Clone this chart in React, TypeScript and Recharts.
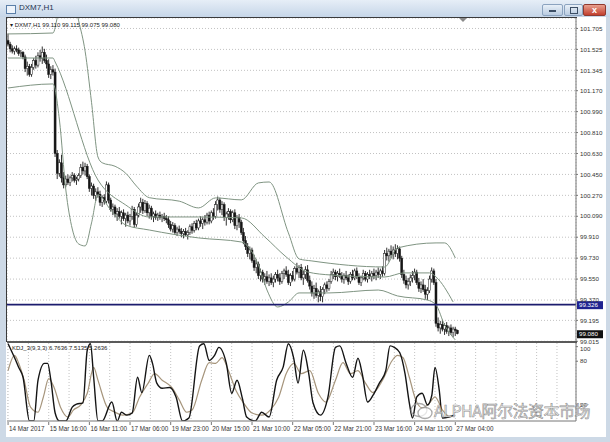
import React from 'react';
import {
  ComposedChart,
  LineChart,
  Bar,
  Line,
  XAxis,
  YAxis,
  CartesianGrid,
  ReferenceLine
} from 'recharts';

// DXM7 H1 candles: [open, high, low, close]
const candles: number[][] = [
  [101.60, 101.66, 101.55, 101.57], [101.57, 101.59, 101.50, 101.53], [101.53, 101.56, 101.49, 101.51], [101.51, 101.55, 101.48, 101.53], [101.53, 101.56, 101.50, 101.52],
  [101.52, 101.54, 101.47, 101.49], [101.49, 101.52, 101.46, 101.50], [101.50, 101.51, 101.44, 101.46], [101.46, 101.48, 101.33, 101.36], [101.36, 101.42, 101.30, 101.38],
  [101.38, 101.40, 101.29, 101.31], [101.31, 101.40, 101.29, 101.37], [101.37, 101.45, 101.35, 101.43], [101.43, 101.47, 101.36, 101.39], [101.39, 101.50, 101.37, 101.47],
  [101.47, 101.52, 101.42, 101.45], [101.45, 101.55, 101.40, 101.50], [101.50, 101.53, 101.41, 101.43], [101.43, 101.48, 101.36, 101.40], [101.40, 101.44, 101.28, 101.31],
  [101.31, 101.38, 101.27, 101.35], [101.35, 101.39, 101.30, 101.33], [101.33, 101.36, 100.60, 100.63], [100.63, 100.66, 100.41, 100.46], [100.46, 100.58, 100.43, 100.55],
  [100.55, 100.62, 100.38, 100.42], [100.42, 100.47, 100.33, 100.36], [100.36, 100.44, 100.34, 100.41], [100.41, 100.45, 100.36, 100.38], [100.38, 100.44, 100.35, 100.42],
  [100.42, 100.47, 100.39, 100.44], [100.44, 100.46, 100.38, 100.40], [100.40, 100.43, 100.36, 100.41], [100.41, 100.46, 100.39, 100.44], [100.44, 100.54, 100.42, 100.51],
  [100.51, 100.56, 100.45, 100.48], [100.48, 100.55, 100.44, 100.52], [100.52, 100.54, 100.41, 100.43], [100.43, 100.45, 100.30, 100.33], [100.33, 100.38, 100.27, 100.35],
  [100.35, 100.37, 100.24, 100.27], [100.27, 100.33, 100.22, 100.30], [100.30, 100.34, 100.25, 100.28], [100.28, 100.31, 100.18, 100.21], [100.21, 100.27, 100.17, 100.25],
  [100.25, 100.28, 100.19, 100.22], [100.22, 100.39, 100.20, 100.36], [100.36, 100.38, 100.20, 100.23], [100.23, 100.25, 100.13, 100.15], [100.15, 100.20, 100.10, 100.17],
  [100.17, 100.19, 100.08, 100.11], [100.11, 100.16, 100.05, 100.13], [100.13, 100.17, 100.07, 100.09], [100.09, 100.14, 100.02, 100.12], [100.12, 100.15, 100.05, 100.07],
  [100.07, 100.12, 100.00, 100.10], [100.10, 100.13, 100.03, 100.05], [100.05, 100.11, 100.01, 100.09], [100.09, 100.18, 100.06, 100.15], [100.15, 100.17, 99.99, 100.02],
  [100.02, 100.12, 100.00, 100.10], [100.10, 100.20, 100.08, 100.17], [100.17, 100.25, 100.12, 100.21], [100.21, 100.24, 100.11, 100.14], [100.14, 100.23, 100.12, 100.20],
  [100.20, 100.22, 100.09, 100.12], [100.12, 100.19, 100.07, 100.16], [100.16, 100.18, 100.06, 100.09], [100.09, 100.13, 100.04, 100.11], [100.11, 100.14, 100.06, 100.08],
  [100.08, 100.12, 100.05, 100.10], [100.10, 100.13, 100.06, 100.08], [100.08, 100.11, 100.04, 100.09], [100.09, 100.12, 100.05, 100.07], [100.07, 100.10, 100.03, 100.06],
  [100.06, 100.09, 99.99, 100.02], [100.02, 100.05, 99.96, 99.98], [99.98, 100.04, 99.95, 100.01], [100.01, 100.03, 99.93, 99.95], [99.95, 100.00, 99.92, 99.98],
  [99.98, 100.01, 99.94, 99.96], [99.96, 99.99, 99.91, 99.94], [99.94, 99.98, 99.90, 99.96], [99.96, 99.99, 99.92, 99.93], [99.93, 99.97, 99.89, 99.95],
  [99.95, 100.02, 99.93, 100.00], [100.00, 100.03, 99.94, 99.97], [99.97, 100.05, 99.95, 100.03], [100.03, 100.06, 99.97, 99.99], [99.99, 100.07, 99.97, 100.05],
  [100.05, 100.09, 100.00, 100.03], [100.03, 100.08, 99.98, 100.06], [100.06, 100.10, 100.01, 100.04], [100.04, 100.12, 100.02, 100.10], [100.10, 100.13, 100.02, 100.05],
  [100.05, 100.14, 100.03, 100.12], [100.12, 100.16, 100.06, 100.09], [100.09, 100.22, 100.07, 100.19], [100.19, 100.26, 100.14, 100.23], [100.23, 100.25, 100.12, 100.15],
  [100.15, 100.22, 100.10, 100.19], [100.19, 100.21, 100.05, 100.08], [100.08, 100.13, 100.01, 100.11], [100.11, 100.16, 100.06, 100.13], [100.13, 100.15, 100.03, 100.06],
  [100.06, 100.14, 100.04, 100.12], [100.12, 100.15, 99.98, 100.01], [100.01, 100.10, 99.97, 100.08], [100.08, 100.11, 99.99, 100.04], [100.04, 100.06, 99.93, 99.95],
  [99.95, 99.99, 99.85, 99.88], [99.88, 99.92, 99.80, 99.83], [99.83, 99.86, 99.74, 99.77], [99.77, 99.83, 99.72, 99.80], [99.80, 99.82, 99.69, 99.71],
  [99.71, 99.76, 99.62, 99.65], [99.65, 99.72, 99.60, 99.68], [99.68, 99.70, 99.55, 99.58], [99.58, 99.64, 99.53, 99.61], [99.61, 99.63, 99.52, 99.55],
  [99.55, 99.60, 99.50, 99.57], [99.57, 99.62, 99.51, 99.53], [99.53, 99.59, 99.49, 99.56], [99.56, 99.60, 99.50, 99.52], [99.52, 99.58, 99.48, 99.55],
  [99.55, 99.61, 99.52, 99.59], [99.59, 99.63, 99.53, 99.56], [99.56, 99.60, 99.50, 99.53], [99.53, 99.62, 99.51, 99.60], [99.60, 99.64, 99.55, 99.62],
  [99.62, 99.66, 99.57, 99.59], [99.59, 99.63, 99.50, 99.52], [99.52, 99.60, 99.49, 99.58], [99.58, 99.62, 99.53, 99.55], [99.55, 99.66, 99.53, 99.64],
  [99.64, 99.69, 99.59, 99.61], [99.61, 99.67, 99.56, 99.65], [99.65, 99.68, 99.54, 99.56], [99.56, 99.62, 99.50, 99.59], [99.59, 99.66, 99.55, 99.63],
  [99.63, 99.67, 99.52, 99.54], [99.54, 99.58, 99.46, 99.49], [99.49, 99.53, 99.40, 99.43], [99.43, 99.50, 99.38, 99.47], [99.47, 99.52, 99.39, 99.41],
  [99.41, 99.46, 99.35, 99.44], [99.44, 99.49, 99.36, 99.40], [99.40, 99.48, 99.35, 99.46], [99.46, 99.52, 99.42, 99.50], [99.50, 99.53, 99.44, 99.47],
  [99.47, 99.55, 99.45, 99.53], [99.53, 99.62, 99.51, 99.59], [99.59, 99.64, 99.55, 99.61], [99.61, 99.63, 99.54, 99.57], [99.57, 99.62, 99.53, 99.60],
  [99.60, 99.64, 99.56, 99.58], [99.58, 99.61, 99.52, 99.55], [99.55, 99.60, 99.51, 99.58], [99.58, 99.62, 99.54, 99.56], [99.56, 99.59, 99.50, 99.53],
  [99.53, 99.61, 99.51, 99.59], [99.59, 99.63, 99.54, 99.56], [99.56, 99.64, 99.54, 99.62], [99.62, 99.65, 99.55, 99.57], [99.57, 99.60, 99.50, 99.52],
  [99.52, 99.58, 99.49, 99.56], [99.56, 99.63, 99.54, 99.60], [99.60, 99.62, 99.53, 99.55], [99.55, 99.61, 99.52, 99.59], [99.59, 99.63, 99.55, 99.57],
  [99.57, 99.62, 99.53, 99.60], [99.60, 99.64, 99.55, 99.58], [99.58, 99.63, 99.54, 99.61], [99.61, 99.65, 99.56, 99.59], [99.59, 99.64, 99.55, 99.62],
  [99.62, 99.66, 99.57, 99.60], [99.60, 99.80, 99.58, 99.77], [99.77, 99.82, 99.71, 99.75], [99.75, 99.81, 99.70, 99.79], [99.79, 99.84, 99.73, 99.76],
  [99.76, 99.83, 99.72, 99.80], [99.80, 99.85, 99.74, 99.77], [99.77, 99.84, 99.72, 99.81], [99.81, 99.83, 99.70, 99.73], [99.73, 99.75, 99.56, 99.59],
  [99.59, 99.63, 99.51, 99.54], [99.54, 99.58, 99.47, 99.50], [99.50, 99.56, 99.46, 99.53], [99.53, 99.59, 99.49, 99.56], [99.56, 99.62, 99.52, 99.58],
  [99.58, 99.64, 99.54, 99.61], [99.61, 99.63, 99.50, 99.52], [99.52, 99.56, 99.44, 99.47], [99.47, 99.53, 99.43, 99.50], [99.50, 99.55, 99.44, 99.46],
  [99.46, 99.50, 99.38, 99.42], [99.42, 99.48, 99.37, 99.45], [99.45, 99.58, 99.43, 99.55], [99.55, 99.65, 99.52, 99.62], [99.62, 99.64, 99.50, 99.52],
  [99.52, 99.55, 99.14, 99.17], [99.17, 99.22, 99.10, 99.13], [99.13, 99.19, 99.08, 99.16], [99.16, 99.20, 99.10, 99.12], [99.12, 99.17, 99.07, 99.15],
  [99.15, 99.18, 99.08, 99.10], [99.10, 99.15, 99.06, 99.13], [99.13, 99.16, 99.07, 99.09], [99.09, 99.14, 99.05, 99.12], [99.12, 99.14, 99.06, 99.11],
  [99.110, 99.115, 99.075, 99.080]
];

// Bollinger bands: [bar, price]
const upperBand = [
  [0, 101.658], [21, 101.666], [23, 101.8], [26, 102.1], [30, 102.0], [33, 101.77], [36, 101.51], [39, 101.07],
  [42, 100.6], [44, 100.55], [50, 100.52], [55, 100.46], [60, 100.35], [66, 100.25], [80, 100.22], [89, 100.162],
  [97, 100.248], [109, 100.231], [117, 100.377], [122, 100.385], [131, 99.947], [136, 99.723], [142, 99.706],
  [176, 99.654], [182, 99.818], [200, 99.861], [204, 99.861], [209, 99.732]
];
const middleBand = [
  [0, 101.451], [21, 101.451], [22, 101.417], [42, 100.402], [55, 100.187], [66, 100.084], [89, 100.084],
  [109, 100.076], [120, 99.912], [130, 99.74], [140, 99.611], [151, 99.585], [176, 99.568], [185, 99.603],
  [197, 99.603], [200, 99.568], [208, 99.353]
];
const lowerBand = [
  [0, 101.193], [21, 101.228], [24, 100.918], [27, 100.316], [30, 99.981], [33, 99.852], [36, 99.835],
  [39, 100.033], [42, 100.273], [48, 100.144], [55, 100.015], [66, 99.972], [89, 99.904], [109, 99.869],
  [117, 99.671], [121, 99.456], [126, 99.31], [131, 99.353], [136, 99.431], [150, 99.431], [173, 99.456],
  [182, 99.405], [196, 99.37], [200, 99.327], [204, 99.155], [209, 99.027]
];

// KDJ(9,3,3): [bar, value]
const kdjFast = [
  [0, 104], [3, 85], [5, 71.5], [7, 58], [10, -2], [12, -2], [14, 54], [17, 77], [18.5, 77], [20, 54], [22, 9],
  [24, -2], [27, -2], [30, 17], [32, 21], [35, 23], [37, 95], [38.5, 104], [40, 58], [42, -2], [44, -2], [48.5, 24],
  [51, -2], [53, 10], [55.5, 6], [58, 9], [60.5, 58], [62.5, 37], [66, 88], [67.5, 77], [69.5, 50], [72, 43],
  [75.5, 44], [78.5, 31], [81.5, -2], [84.5, 2], [89.5, 101], [91.5, 104], [94, 81], [96.5, 88], [98.5, 99],
  [102, 77], [104.5, 36], [107, 54], [109.5, 29], [111.5, 3.5], [115.5, -2], [118.5, 10], [122, 3.5], [125.5, 54],
  [128.5, 71.5], [131, 104], [133.5, 84], [135.5, 50], [138, 95], [140.5, 63], [142.5, 23], [146, 6], [149.5, 31],
  [153, 99], [155, 101], [158, 77], [161, 58], [163.5, 84], [165.5, 63], [168, 24], [170.5, 33], [173.5, 50],
  [176.5, 67], [178.5, 101], [180.5, 99], [183, 92], [185.5, 63], [187.5, 23], [189, 2], [191, 31], [193.5, 36],
  [196, 20], [198, 33], [199.5, 71.5], [201.5, 40], [203, 2], [206, 3.5], [208.5, 6]
];
const kdjSlow = [
  [0, 67], [3, 88], [5, 77], [7.5, 54], [10.5, 17], [14, 10], [16.5, 31], [19, 56], [21.5, 44], [24.5, 17],
  [28, 3.5], [30.5, 13], [34, 20], [37, 36], [40, 71.5], [42, 54], [46.5, 16], [50, 10], [53.5, 6], [58, 9],
  [61.5, 31], [65.5, 50], [68.5, 63], [72, 54], [76.5, 44], [80, 27], [83.5, 10], [86, 13], [90.5, 54], [94, 78],
  [97, 77], [100, 85], [103, 67], [106.5, 40], [110, 23], [114, 9], [118.5, 6], [122.5, 13], [126.5, 31],
  [130, 63], [133.5, 77], [137, 63], [141, 67], [145, 36], [148.5, 24], [153, 54], [156.5, 78], [160, 63],
  [163.5, 67], [167, 50], [170.5, 37], [175, 54], [179.5, 81], [182, 88], [184.5, 85], [187.5, 58], [190.5, 27],
  [193.5, 16], [197, 23], [199.5, 31], [203, 13], [206, 3.5]
];

const priceTicks = [101.705, 101.525, 101.345, 101.17, 100.99, 100.81, 100.63, 100.45, 100.27, 100.09, 99.91, 99.73, 99.55, 99.37, 99.195, 99.015];
const timeBars = [0, 19, 38, 57, 76, 95, 114, 133, 152, 171, 190, 209];
const timeLabels = ['14 Mar 2017', '15 Mar 16:00', '16 Mar 11:00', '17 Mar 06:00', '19 Mar 23:00', '20 Mar 15:00', '21 Mar 10:00', '22 Mar 05:00', '22 Mar 21:00', '23 Mar 16:00', '24 Mar 11:00', '27 Mar 04:00'];
const gridBars = [0, 9.5, 19, 28.5, 38, 47.5, 57, 66.5, 76, 85.5, 95, 104.5, 114, 123.5, 133, 142.5, 152, 161.5, 171, 180.5, 190, 199.5, 209, 218.5, 228, 237.5, 247, 256.5];
const kdjTicks = [100, 80, 20];
const levelPrice = 99.33;
const levelText = '99.326';
const lastBar = { o: 99.11, h: 99.115, l: 99.075, c: 99.08 };

const FONT = "'Liberation Sans', Arial, sans-serif";
const BAR_DOMAIN: [number, number] = [-0.5, 265.4];

const candleData = candles.map((c, i) => ({ i, o: c[0], h: c[1], l: c[2], c: c[3], range: [c[2], c[1]] }));
const toPts = (arr: number[][]) => arr.map(([i, v]) => ({ i, v }));

const Candle = (props: any) => {
  const { x, y, width, height, payload } = props;
  if (x == null || y == null) return null;
  const { o, h, l, c } = payload;
  const cx = x + width / 2;
  const k = h > l ? height / (h - l) : 0;
  const py = (p: number) => y + (h - p) * k;
  const top = py(Math.max(o, c));
  const bot = py(Math.min(o, c));
  const up = c >= o;
  return (
    <g>
      <line x1={cx} x2={cx} y1={y} y2={y + height} stroke="#1a1a1a" strokeWidth={0.9} />
      <rect
        x={cx - 1}
        y={top}
        width={2}
        height={Math.max(bot - top, 0.7)}
        fill={up ? '#ffffff' : '#151515'}
        stroke="#1a1a1a"
        strokeWidth={0.5}
      />
    </g>
  );
};

const PriceTick = (props: any) => {
  const { x, y, payload } = props;
  return (
    <g>
      <line x1={x - 4} x2={x - 2} y1={y} y2={y} stroke="#777" />
      <text x={x} y={y} dy={2.2} fontSize={6.2} fill="#333" fontFamily={FONT}>
        {payload.value.toFixed(3)}
      </text>
    </g>
  );
};

const KdjTick = (props: any) => {
  const { x, y, payload } = props;
  const yy = Math.max(y, 7);
  return (
    <g>
      <line x1={x - 4} x2={x - 2} y1={y} y2={y} stroke="#777" />
      <text x={x} y={yy} dy={2.2} fontSize={6.2} fill="#333" fontFamily={FONT}>
        {payload.value}
      </text>
    </g>
  );
};

const TimeTick = (props: any) => {
  const { x, y, payload } = props;
  const idx = timeBars.indexOf(payload.value);
  if (idx < 0) return null;
  return (
    <g>
      <line x1={x} x2={x} y1={y - 3} y2={y} stroke="#777" />
      <text x={x + 1} y={y} dy={5.5} fontSize={6.3} fill="#333" fontFamily={FONT}>
        {timeLabels[idx]}
      </text>
    </g>
  );
};

const PriceBox = (props: any) => {
  const { viewBox, text, bg } = props;
  if (!viewBox) return null;
  const x = viewBox.x + viewBox.width + 1;
  const y = viewBox.y;
  return (
    <g>
      <rect x={x} y={y - 3.5} width={26} height={8} fill={bg} />
      <text x={x + 2} y={y} dy={2.7} fontSize={6.2} fill="#fff" fontFamily={FONT}>
        {text}
      </text>
    </g>
  );
};

const App = () => {
  return (
    <div style={{ position: 'absolute', left: 0, top: 0, width: 610, height: 442, background: '#cdd9e6', overflow: 'hidden', fontFamily: FONT }}>
      {/* window title bar */}
      <div style={{ position: 'absolute', left: 0, top: 0, width: 610, height: 17, background: 'linear-gradient(#e6eef7, #c6d6e8)' }} />
      <div style={{ position: 'absolute', left: 6, top: 5, width: 8, height: 7, border: '1px solid #5b7fa8', background: '#eef4fb' }} />
      <div style={{ position: 'absolute', left: 19, top: 3, fontSize: 8, color: '#1e3350' }}>DXM7,H1</div>
      <div style={{ position: 'absolute', left: 542, top: 4, width: 19, height: 10, borderRadius: 2, background: 'linear-gradient(#e8f0f8, #b9cbe0)', border: '1px solid #8ba3bf' }}>
        <div style={{ position: 'absolute', left: 6, top: 5, width: 7, height: 2, background: '#3d4f66' }} />
      </div>
      <div style={{ position: 'absolute', left: 564, top: 4, width: 17, height: 10, borderRadius: 2, background: 'linear-gradient(#e8f0f8, #b9cbe0)', border: '1px solid #8ba3bf' }}>
        <div style={{ position: 'absolute', left: 5, top: 2, width: 6, height: 5, border: '1px solid #3d4f66' }} />
      </div>
      <div style={{ position: 'absolute', left: 583, top: 4, width: 21, height: 10, borderRadius: 2, background: 'linear-gradient(#e9a08f, #c23f2e)', border: '1px solid #8f3a30', color: '#fff', fontSize: 9, lineHeight: '10px', textAlign: 'center', fontWeight: 700 }}>
        x
      </div>

      {/* chart canvas */}
      <div style={{ position: 'absolute', left: 6, top: 17, width: 600, height: 420, background: '#ffffff' }} />
      <div style={{ position: 'absolute', left: 6, top: 17, width: 570, height: 324, borderLeft: '1px solid #3a3a3a', borderTop: '1px solid #3a3a3a' }} />

      <div style={{ position: 'absolute', left: 7, top: 18 }}>
        <ComposedChart width={598} height={329} data={candleData} margin={{ top: 0, right: 0, bottom: 5, left: 0 }}>
          <CartesianGrid stroke="#c2c2c2" strokeDasharray="1 2" />
          <XAxis
            type="number"
            dataKey="i"
            domain={BAR_DOMAIN}
            allowDataOverflow
            ticks={gridBars}
            interval={0}
            tick={false}
            tickLine={false}
            axisLine={false}
            height={0}
          />
          <YAxis
            orientation="right"
            type="number"
            domain={[99.009, 101.795]}
            allowDataOverflow
            ticks={priceTicks}
            interval={0}
            width={29}
            tick={<PriceTick />}
            tickLine={false}
            tickSize={2}
            axisLine={{ stroke: '#777' }}
          />
          <Line data={toPts(upperBand)} dataKey="v" type="monotone" stroke="#7f9482" strokeWidth={1} dot={false} isAnimationActive={false} />
          <Line data={toPts(middleBand)} dataKey="v" type="monotone" stroke="#7f9482" strokeWidth={1} dot={false} isAnimationActive={false} />
          <Line data={toPts(lowerBand)} dataKey="v" type="monotone" stroke="#7f9482" strokeWidth={1} dot={false} isAnimationActive={false} />
          <Bar dataKey="range" barSize={2} shape={(p: any) => <Candle {...p} />} isAnimationActive={false} />
          <ReferenceLine y={levelPrice} stroke="#1c1c6e" strokeWidth={1.6} label={<PriceBox text={levelText} bg="#1f2290" />} />
          <ReferenceLine y={lastBar.c} stroke="none" label={<PriceBox text={lastBar.c.toFixed(3)} bg="#111111" />} />
        </ComposedChart>
      </div>

      {/* chart-shift marker */}
      <svg style={{ position: 'absolute', left: 459, top: 18 }} width={9} height={5}>
        <polygon points="0,0 8,0 4,4" fill="#8a8a8a" />
      </svg>

      <div style={{ position: 'absolute', left: 10, top: 21, fontSize: 6, color: '#222', whiteSpace: 'nowrap' }}>
        ▾ DXM7,H1 {lastBar.o.toFixed(3)} {lastBar.h.toFixed(3)} {lastBar.l.toFixed(3)} {lastBar.c.toFixed(3)}
      </div>

      {/* pane separator */}
      <div style={{ position: 'absolute', left: 7, top: 341, width: 570, height: 2, background: '#5a5a5a' }} />

      <div style={{ position: 'absolute', left: 7, top: 342 }}>
        <LineChart width={598} height={94} margin={{ top: 1, right: 0, bottom: 0, left: 0 }}>
          <CartesianGrid stroke="#c2c2c2" strokeDasharray="1 2" horizontal={false} />
          <XAxis
            type="number"
            dataKey="i"
            domain={BAR_DOMAIN}
            allowDataOverflow
            ticks={gridBars}
            interval={0}
            height={15}
            tick={<TimeTick />}
            tickLine={false}
            tickSize={2}
            axisLine={{ stroke: '#777' }}
          />
          <YAxis
            orientation="right"
            type="number"
            domain={[-2, 105]}
            allowDataOverflow
            ticks={kdjTicks}
            interval={0}
            width={29}
            tick={<KdjTick />}
            tickLine={false}
            tickSize={2}
            axisLine={{ stroke: '#777' }}
          />
          <Line data={toPts(kdjSlow)} dataKey="v" type="monotone" stroke="#a6957c" strokeWidth={1.2} dot={false} isAnimationActive={false} />
          <Line data={toPts(kdjFast)} dataKey="v" type="monotone" stroke="#141414" strokeWidth={1.4} dot={false} isAnimationActive={false} />
        </LineChart>
      </div>

      <div style={{ position: 'absolute', left: 12, top: 345, fontSize: 6, color: '#222', whiteSpace: 'nowrap' }}>
        KDJ_3(9,3,3) 6.7636 7.5135 5.2636
      </div>

      {/* watermark */}
      <svg style={{ position: 'absolute', left: 410, top: 401 }} width={24} height={20}>
        <ellipse cx={9} cy={9} rx={8} ry={6.5} fill="none" stroke="rgba(150,150,150,0.8)" strokeWidth={1.3} />
        <ellipse cx={15} cy={12} rx={7} ry={5.5} fill="rgba(255,255,255,0.7)" stroke="rgba(150,150,150,0.8)" strokeWidth={1.3} />
      </svg>
      <div
        style={{
          position: 'absolute',
          left: 434,
          top: 400,
          fontSize: 16,
          lineHeight: '20px',
          fontFamily: "'Noto Sans CJK SC', 'Noto Sans', sans-serif",
          color: 'rgba(235,235,235,0.85)',
          WebkitTextStroke: '0.6px rgba(120,120,120,0.8)',
          whiteSpace: 'nowrap',
          letterSpacing: -0.5
        }}
      >
        ALPHA阿尔法资本市场
      </div>
    </div>
  );
};

export default App;
